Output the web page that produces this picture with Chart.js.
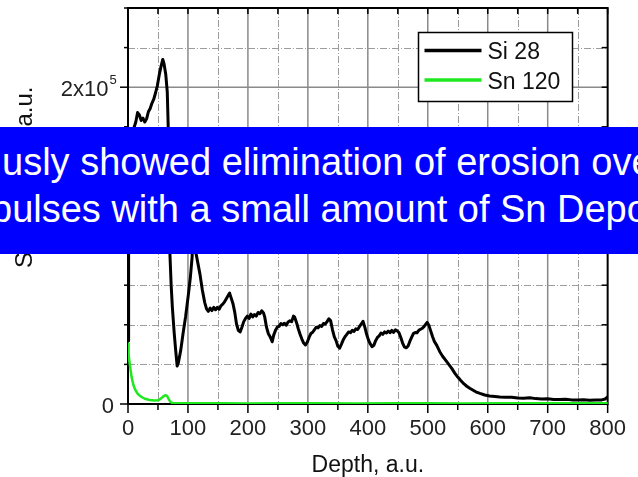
<!DOCTYPE html>
<html>
<head>
<meta charset="utf-8">
<script src="https://cdn.jsdelivr.net/npm/chart.js@4.4.1/dist/chart.umd.min.js"></script>
<style>
  html, body { margin: 0; padding: 0; background: #fff; }
  #wrap { position: relative; width: 638px; height: 477px; overflow: hidden; }
  #depth-profile { position: absolute; left: 0; top: 0; }
  #banner {
    position: absolute; left: 0; top: 127px; width: 638px; height: 127px;
    background: #0000ff; color: #fff; overflow: hidden;
    font-family: "Liberation Sans", Arial, sans-serif; font-size: 38px;
  }
  #banner div { position: absolute; white-space: nowrap; line-height: 1; }
</style>
</head>
<body>
<div id="wrap">
  <canvas id="depth-profile" width="638" height="477"></canvas>
  <div id="banner">
    <div style="left:2px; top:16px;">usly showed elimination of erosion over</div>
    <div style="left:-9px; top:63px;">pulses with a small amount of Sn Deposition</div>
  </div>
</div>
<script>
// Si 28 depth profile
const siDepth = [
  0, 1, 2, 4, 8, 13, 16, 19, 22, 25,
  28, 31, 34, 37, 40, 43, 46, 49, 52, 55,
  58, 60, 63, 65.5, 67, 68.5, 70, 72, 74, 77,
  79.5, 82, 84, 88, 92, 96, 101, 104, 107, 108.5,
  110, 112, 113.5, 117, 120, 124, 128, 131, 134, 137,
  140, 143, 146, 149, 152, 155, 158, 161, 164, 167,
  169.5, 172, 175, 178, 181, 184, 187, 190, 193, 196,
  199, 202, 205, 208, 211, 214, 217, 220, 223, 226,
  228, 231, 234, 237, 240.5, 243, 246, 249, 252, 255,
  258, 261, 264, 267, 270, 273, 276, 278, 281, 284,
  287, 290, 293, 296, 299, 302, 305, 308, 311, 314,
  317, 320, 323, 326, 329, 332, 335, 338, 341, 344,
  347, 350, 353, 356, 359, 362, 365, 368, 371, 374,
  377, 380, 383, 386, 389, 392, 395, 398, 401, 404,
  407, 410, 413, 416, 419, 422, 425, 428, 431, 434,
  437, 440, 443, 446, 449, 452, 455, 458, 461, 464,
  467, 470, 473, 476, 479, 482, 485, 488, 491, 494,
  497, 499, 502, 505, 508, 511, 515, 520, 525, 530,
  535, 540, 545, 550, 555, 560, 565, 570, 575, 580,
  587, 595, 603, 612, 620, 630, 640, 650, 660, 670,
  680, 690, 700, 710, 720, 730, 740, 750, 760, 770,
  780, 790, 796, 800
];
const siCounts = [
  40000, 90000, 140000, 165000, 172000, 178000, 184000, 182500, 179000, 180500,
  178000, 180000, 184500, 186500, 190000, 192500, 196500, 201000, 207500, 213000,
  217500, 215000, 208000, 197000, 176000, 130000, 94000, 75000, 61000, 45000,
  34000, 24000, 26000, 34000, 45000, 55000, 70000, 80000, 93000, 115000,
  125000, 118000, 95000, 88000, 82000, 72000, 64000, 60000, 58500, 60500,
  59000, 61000, 59500, 61000, 59800, 62000, 63000, 64500, 66500, 68500,
  70000, 67000, 63500, 58000, 50500, 46500, 45500, 48500, 52000, 54000,
  55500, 54000, 56800, 55000, 56500, 55500, 57800, 57000, 58800, 57500,
  55000, 48500, 44500, 42500, 39300, 43500, 46500, 48500, 49000, 50800,
  50000, 51000, 49800, 51800, 52500, 52000, 55500, 54800, 51500, 47500,
  44000, 41000, 38500, 37300, 39000, 42000, 44500, 45300, 47000, 48500,
  48000, 49500, 49000, 50800, 50500, 52000, 53800, 52500, 47000, 42500,
  40000, 36500, 35300, 37800, 40500, 42500, 44000, 45500, 45000, 46500,
  45800, 47500, 47000, 48800, 50500, 52200, 48500, 44000, 40500, 38000,
  36200, 37000, 40000, 42000, 43000, 44800, 44000, 45500, 44800, 46000,
  45000, 46500, 45200, 46800, 46200, 45000, 42000, 38500, 36000, 35500,
  36500, 39500, 42000, 44500, 45200, 45000, 46500, 47200, 47800, 49000,
  50500, 51500, 49500, 46000, 42500, 39500, 37000, 33000, 30000, 27500,
  25000, 22500, 19500, 17000, 14800, 12800, 11200, 9900, 8800, 7700,
  6700, 5700, 5000, 4700, 4400, 4200, 4300, 3800, 3700, 3900,
  3400, 3100, 3300, 2900, 2800, 3000, 2600, 2500, 2700, 2400,
  2600, 2600, 3200, 4500
];

// Sn 120 depth profile
const snDepth = [0, 1, 3, 6, 9, 12, 16, 22, 28, 36, 44, 50, 54, 58, 62, 65, 68, 71, 75, 90, 120, 160, 200, 260, 320, 380, 440, 500, 560, 620, 680, 740, 800];
const snCounts = [38000, 31000, 25000, 17000, 12000, 9000, 6500, 4600, 3300, 2500, 2200, 2300, 3200, 4500, 5500, 5200, 3000, 1200, 500, 450, 400, 500, 350, 450, 400, 350, 450, 400, 350, 400, 450, 400, 500];

const depthTicks = [0, 100, 200, 300, 400, 500, 600, 700, 800];
const signalLabels = [0, 100000, 200000];

const FONT = '"Liberation Sans", Arial, sans-serif';
Chart.defaults.font.family = FONT;

const toPoints = (xs, ys) => xs.map((x, i) => ({ x: x, y: ys[i] }));

// Origin-style frame: major/minor grid, ticks, axis labels and legend box
const frame = {
  id: 'frame',
  beforeDatasetsDraw(chart) {
    const { ctx, chartArea: a, scales: { x, y } } = chart;
    const vline = (px, y0, y1) => { ctx.beginPath(); ctx.moveTo(px, y0); ctx.lineTo(px, y1); ctx.stroke(); };
    const hline = (py, x0, x1) => { ctx.beginPath(); ctx.moveTo(x0, py); ctx.lineTo(x1, py); ctx.stroke(); };
    ctx.save();

    // minor grid, dash-dot
    ctx.strokeStyle = '#9c9c9c';
    ctx.lineWidth = 1;
    ctx.setLineDash([7, 2, 1, 2]);
    for (let d = 50; d < 800; d += 100) vline(Math.round(x.getPixelForValue(d)) + 0.5, a.top, a.bottom);
    for (let v = 25000; v < 250000; v += 25000) {
      if (v % 100000) hline(Math.round(y.getPixelForValue(v)) + 0.5, a.left, a.right);
    }

    // major grid, solid
    ctx.setLineDash([]);
    ctx.strokeStyle = '#8a8a8a';
    ctx.lineWidth = 1.5;
    for (let d = 100; d < 800; d += 100) vline(x.getPixelForValue(d), a.top, a.bottom);
    signalLabels.slice(1).forEach(v => hline(y.getPixelForValue(v), a.left, a.right));

    // axes and ticks
    ctx.strokeStyle = '#000';
    ctx.lineWidth = 1.5;
    for (let d = 0; d <= 800; d += 50) {
      const px = x.getPixelForValue(d);
      vline(px, a.bottom, a.bottom + (d % 100 ? 6 : 9));
      vline(px, a.top, a.top + 6);
    }
    for (let v = 0; v <= 250000; v += 25000) {
      const py = y.getPixelForValue(v);
      hline(py, a.left - (v % 100000 ? 4 : 8), a.left);
      hline(py, a.right - 6, a.right);
    }
    ctx.lineWidth = 2;
    ctx.strokeRect(a.left, a.top, a.right - a.left, a.bottom - a.top);
    ctx.restore();
  },
  afterDraw(chart) {
    const { ctx, scales: { y } } = chart;
    ctx.save();
    ctx.fillStyle = '#222';

    // y tick labels with superscript exponent
    signalLabels.forEach(v => {
      const base = y.getPixelForValue(v) + 8.5;
      ctx.textAlign = 'right';
      ctx.font = '22px ' + FONT;
      if (v === 0) {
        ctx.fillText('0', 114, base);
        return;
      }
      ctx.fillText((v / 100000) + 'x10', 108.5, base);
      ctx.textAlign = 'left';
      ctx.font = '13px ' + FONT;
      ctx.fillText('5', 109.5, base - 11.5);
    });

    // y axis title
    ctx.translate(32, 268);
    ctx.rotate(-Math.PI / 2);
    ctx.textAlign = 'left';
    ctx.font = '24px ' + FONT;
    ctx.fillStyle = '#111';
    ctx.fillText('SIMS signal, a.u.', 0, 0);
    ctx.setTransform(1, 0, 0, 1, 0, 0);

    // legend
    const lx = 418.5, ly = 32.5, lw = 154, lh = 69;
    ctx.fillStyle = '#fff';
    ctx.fillRect(lx, ly, lw, lh);
    ctx.strokeStyle = '#000';
    ctx.lineWidth = 1.5;
    ctx.strokeRect(lx, ly, lw, lh);
    chart.data.datasets.forEach((ds, i) => {
      const ry = ly + 18 + i * 29.5;
      ctx.strokeStyle = ds.borderColor;
      ctx.lineWidth = 3.5;
      ctx.beginPath();
      ctx.moveTo(lx + 6, ry);
      ctx.lineTo(lx + 63, ry);
      ctx.stroke();
      ctx.fillStyle = '#111';
      ctx.font = '23px ' + FONT;
      ctx.textAlign = 'left';
      ctx.fillText(ds.label, lx + 69, ry + 8.5);
    });
    ctx.restore();
  }
};

new Chart(document.getElementById('depth-profile'), {
  type: 'line',
  data: {
    datasets: [{
      label: 'Si 28',
      data: toPoints(siDepth, siCounts),
      borderColor: '#000000',
      borderWidth: 3,
      order: 2
    }, {
      label: 'Sn 120',
      data: toPoints(snDepth, snCounts),
      borderColor: '#1ee81e',
      borderWidth: 2.5,
      order: 1
    }]
  },
  options: {
    responsive: false,
    animation: false,
    events: [],
    layout: { padding: { top: 8, right: 21, left: 0, bottom: 0 } },
    elements: {
      point: { radius: 0 },
      line: { tension: 0, borderJoinStyle: 'round', borderCapStyle: 'round' }
    },
    plugins: { legend: { display: false }, tooltip: { enabled: false } },
    scales: {
      x: {
        type: 'linear',
        min: 0,
        max: 800,
        afterBuildTicks: s => { s.ticks = depthTicks.map(v => ({ value: v })); },
        afterFit: s => { s.height = 73; },
        grid: { display: false, drawTicks: false },
        border: { display: false },
        ticks: {
          autoSkip: false,
          maxRotation: 0,
          padding: 12,
          color: '#222',
          font: { size: 22 }
        },
        title: {
          display: true,
          text: 'Depth, a.u.',
          color: '#111',
          font: { size: 23, lineHeight: 1 },
          padding: 0
        }
      },
      y: {
        type: 'linear',
        min: 0,
        max: 250000,
        afterFit: s => { s.width = 128; },
        grid: { display: false, drawTicks: false },
        border: { display: false },
        ticks: { display: false }
      }
    }
  },
  plugins: [frame]
});
</script>
</body>
</html>
